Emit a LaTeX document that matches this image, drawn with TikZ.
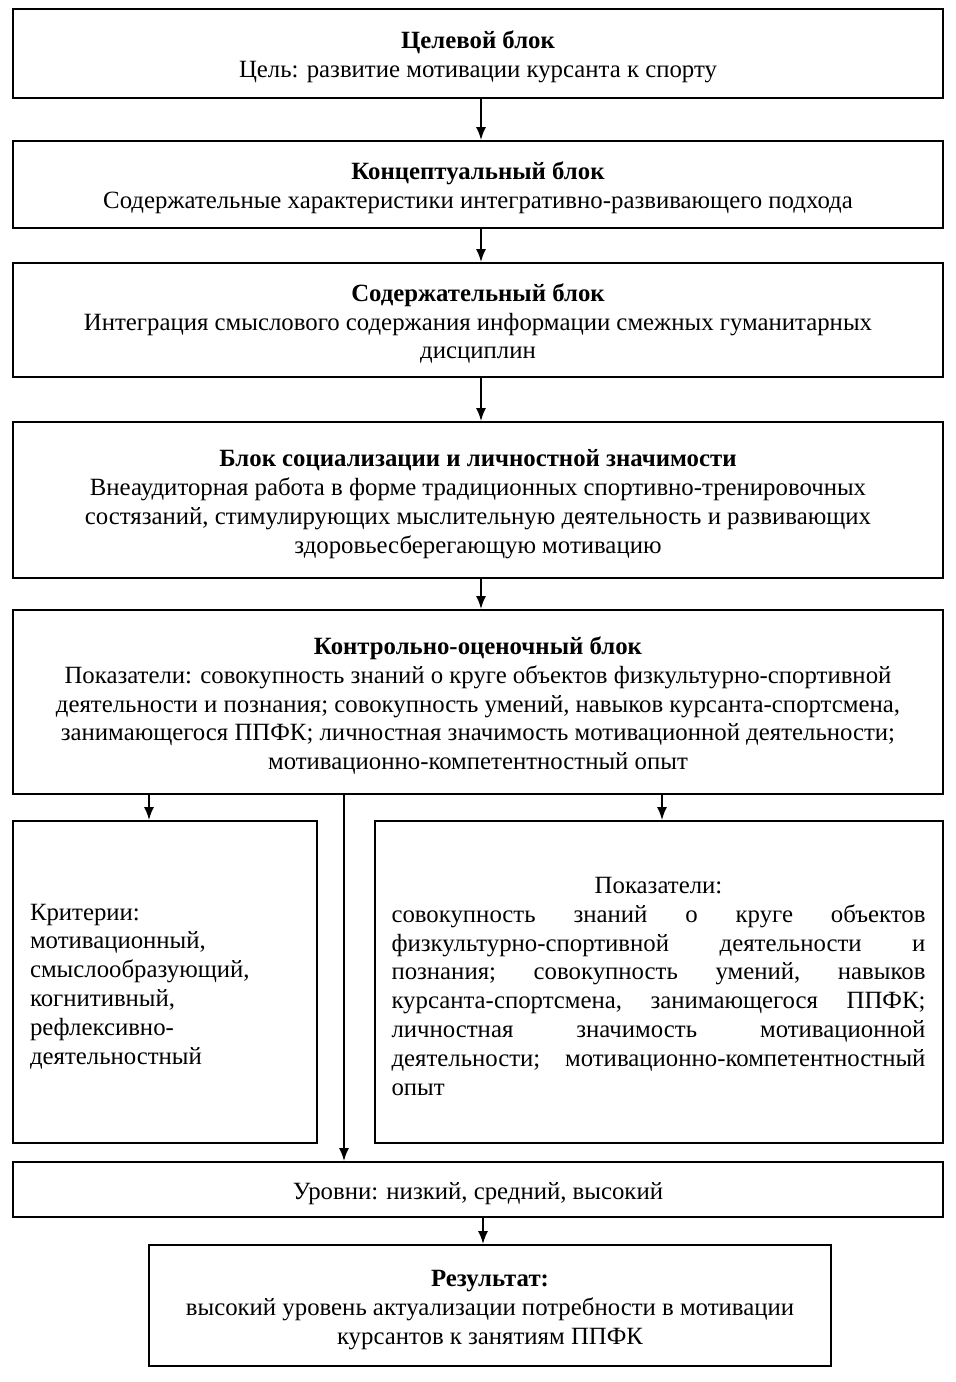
\documentclass[tikz,border=0pt]{standalone}
\usepackage{fontspec}
\setmainfont{Liberation Serif}
\usetikzlibrary{arrows.meta}
\newlength\rwid
\setlength\rwid{267pt}
\newcommand\jline[1]{\leavevmode\hbox to \rwid{#1}}
\newcommand\up{\rule{0pt}{12.5pt}}
\begin{document}
\begin{tikzpicture}[x=0.5pt,y=-0.5pt,
  box/.style={draw,line width=1pt,inner sep=0pt,align=center,
    font=\fontsize{12.4}{14.4}\selectfont},
  arr/.style={line width=0.8pt,-{Latex[length=6.5pt,width=5pt]}}]
\useasboundingbox (0,0) rectangle (956,1382);
\fill[white] (0,0) rectangle (956,1382);
\node[box,minimum width=465pt,minimum height=44.5pt] (b1) at (478,53.5)
  {\up\textbf{Целевой блок}\\Цель: развитие мотивации курсанта к спорту};
\node[box,minimum width=465pt,minimum height=43.5pt] (b2) at (478,184.5)
  {\up\textbf{Концептуальный блок}\\Содержательные характеристики интегративно-развивающего подхода};
\node[box,minimum width=465pt,minimum height=57pt] (b3) at (478,320)
  {\up\textbf{Содержательный блок}\\Интеграция смыслового содержания информации смежных гуманитарных\\дисциплин};
\node[box,minimum width=465pt,minimum height=78pt] (b4) at (478,500)
  {\up\textbf{Блок социализации и личностной значимости}\\Внеаудиторная работа в форме традиционных спортивно-тренировочных\\состязаний, стимулирующих мыслительную деятельность и развивающих\\здоровьесберегающую мотивацию};
\node[box,minimum width=465pt,minimum height=92pt] (b5) at (478,702)
  {\up\textbf{Контрольно-оценочный блок}\\Показатели: совокупность знаний о круге объектов физкультурно-спортивной\\деятельности и познания; совокупность умений, навыков курсанта-спортсмена,\\занимающегося ППФК; личностная значимость мотивационной деятельности;\\мотивационно-компетентностный опыт};
\node[box,align=left,text width=135pt,minimum width=152pt,minimum height=161pt] (l) at (165,982)
  {\up Критерии:\\мотивационный,\\смыслообразующий,\\когнитивный,\\рефлексивно-\\деятельностный};
\node[box,align=left,text width=267.5pt,minimum width=284pt,minimum height=161pt] (r) at (659,982)
  {\jline{\up\hfill Показатели:\hfill}\\
   \jline{совокупность\hfill знаний\hfill о\hfill круге\hfill объектов}\\
   \jline{физкультурно-спортивной\hfill деятельности\hfill и}\\
   \jline{познания;\hfill совокупность\hfill умений,\hfill навыков}\\
   \jline{курсанта-спортсмена,\hfill занимающегося\hfill ППФК;}\\
   \jline{личностная\hfill значимость\hfill мотивационной}\\
   \jline{деятельности;\hfill мотивационно-компетентностный}\\
   \jline{опыт\hfill}};
\node[box,minimum width=465pt,minimum height=27.5pt] (lev) at (478,1189.5)
  {\up Уровни: низкий, средний, высокий};
\node[box,minimum width=341pt,minimum height=60.5pt] (res) at (490,1305.5)
  {\up\textbf{Результат:}\\высокий уровень актуализации потребности в мотивации\\курсантов к занятиям ППФК};
\coordinate (vx) at (344,0);
\draw[arr] ([xshift=1.5pt]b1.south) -- ([xshift=1.5pt]b2.north);
\draw[arr] ([xshift=1.5pt]b2.south) -- ([xshift=1.5pt]b3.north);
\draw[arr] ([xshift=1.5pt]b3.south) -- ([xshift=1.5pt]b4.north);
\draw[arr] ([xshift=1.5pt]b4.south) -- ([xshift=1.5pt]b5.north);
\draw[arr] ([xshift=-8pt]l.north |- b5.south) -- ([xshift=-8pt]l.north);
\draw[arr] ([xshift=1.5pt]r.north |- b5.south) -- ([xshift=1.5pt]r.north);
\draw[arr] (b5.south -| vx) -- (lev.north -| vx);
\draw[arr] ([xshift=-3.5pt]res.north |- lev.south) -- ([xshift=-3.5pt]res.north);
\end{tikzpicture}
\end{document}
